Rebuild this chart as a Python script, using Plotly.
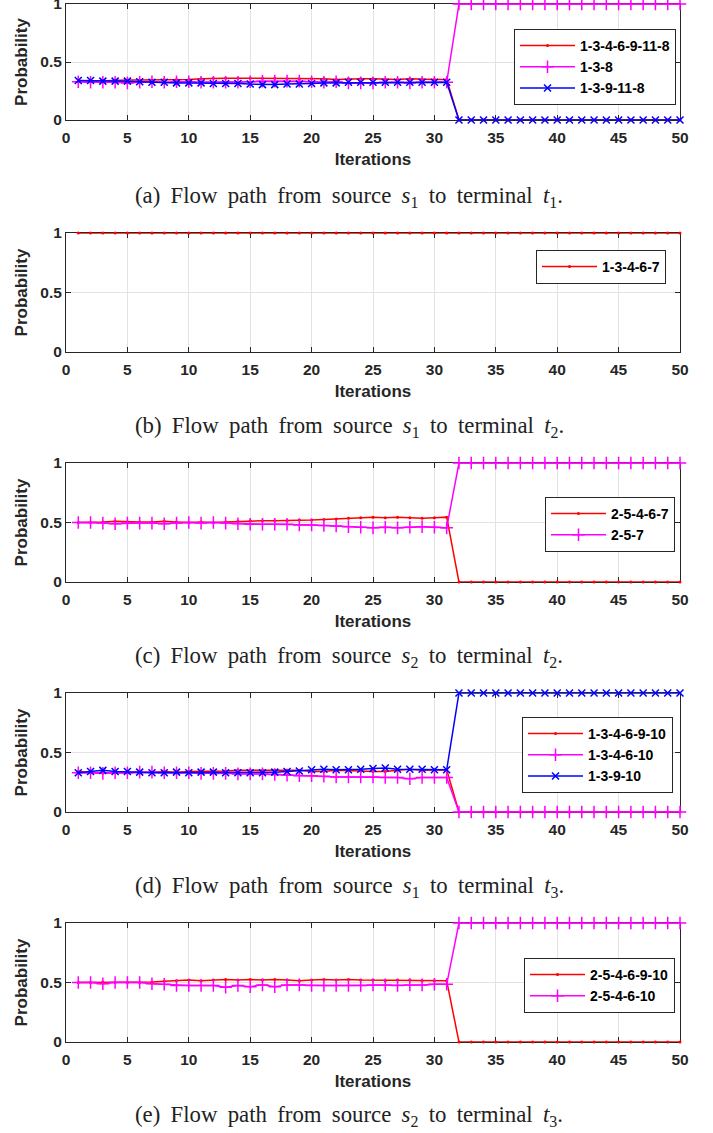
import plotly.graph_objects as go

iters = list(range(1, 51))

# (a) s1 -> t1
a_red = [0.33,0.335,0.34,0.34,0.345,0.345,0.345,0.35,0.35,0.35,0.355,0.36,0.36,0.36,0.36,0.36,0.36,0.355,0.355,0.355,0.355,0.35,0.355,0.355,0.355,0.35,0.35,0.355,0.35,0.35,0.35] + [0.0]*19
a_mag = [0.33,0.325,0.325,0.325,0.32,0.325,0.33,0.325,0.33,0.33,0.325,0.325,0.325,0.325,0.33,0.335,0.335,0.335,0.335,0.33,0.325,0.33,0.32,0.32,0.32,0.325,0.325,0.32,0.325,0.325,0.325] + [1.0]*19
a_blue = [0.34,0.34,0.335,0.335,0.335,0.33,0.325,0.325,0.32,0.32,0.32,0.315,0.315,0.315,0.31,0.305,0.305,0.31,0.31,0.315,0.32,0.32,0.325,0.325,0.325,0.325,0.325,0.325,0.325,0.325,0.325] + [0.0]*19

# (b) s1 -> t2
b_red = [1.0]*50

# (c) s2 -> t2
c_red = [0.50,0.50,0.505,0.51,0.505,0.505,0.505,0.51,0.505,0.50,0.505,0.50,0.505,0.51,0.515,0.515,0.515,0.515,0.52,0.52,0.525,0.53,0.535,0.54,0.545,0.54,0.545,0.54,0.535,0.54,0.545] + [0.0]*19
c_mag = [0.50,0.50,0.495,0.49,0.495,0.495,0.495,0.49,0.495,0.50,0.495,0.50,0.495,0.49,0.485,0.485,0.485,0.485,0.48,0.48,0.475,0.47,0.465,0.46,0.455,0.46,0.455,0.46,0.465,0.46,0.455] + [1.0]*19

# (d) s1 -> t3
d_red = [0.34,0.33,0.325,0.33,0.33,0.33,0.335,0.34,0.335,0.34,0.34,0.34,0.345,0.35,0.35,0.35,0.35,0.35,0.35,0.34,0.34,0.35,0.35,0.345,0.34,0.34,0.35,0.36,0.35,0.355,0.355] + [0.0]*19
d_mag = [0.33,0.33,0.325,0.33,0.33,0.335,0.335,0.33,0.33,0.33,0.325,0.325,0.325,0.32,0.32,0.32,0.315,0.31,0.305,0.305,0.3,0.295,0.295,0.295,0.295,0.29,0.29,0.28,0.29,0.29,0.29] + [0.0]*19
d_blue = [0.33,0.34,0.35,0.34,0.34,0.335,0.33,0.33,0.335,0.33,0.335,0.335,0.33,0.33,0.33,0.33,0.335,0.34,0.345,0.355,0.36,0.355,0.355,0.36,0.365,0.37,0.36,0.36,0.36,0.355,0.355] + [1.0]*19

# (e) s2 -> t3
e_red = [0.50,0.50,0.505,0.50,0.50,0.50,0.505,0.51,0.515,0.52,0.515,0.52,0.525,0.52,0.525,0.52,0.525,0.52,0.515,0.52,0.525,0.52,0.525,0.52,0.52,0.515,0.52,0.52,0.515,0.515,0.515] + [0.0]*19
e_mag = [0.50,0.50,0.49,0.50,0.50,0.50,0.49,0.485,0.475,0.475,0.475,0.475,0.46,0.475,0.465,0.48,0.465,0.48,0.48,0.475,0.475,0.475,0.475,0.475,0.48,0.48,0.475,0.48,0.48,0.485,0.485] + [1.0]*19

x_ticks = [0, 5, 10, 15, 20, 25, 30, 35, 40, 45, 50]
y_ticks = [0, 0.5, 1]
y_tick_text = ["0", "0.5", "1"]

SP = " \u2009"  # widened word space (LaTeX-like justification)
def cap(letter, s, t):
    words = [f"({letter})", "Flow", "path", "from", "source",
             f"<i>s</i><sub>{s}</sub>", "to", "terminal", f"<i>t</i><sub>{t}</sub>."]
    return SP.join(words)

captions = [cap("a", 1, 1), cap("b", 1, 2), cap("c", 2, 2), cap("d", 1, 3), cap("e", 2, 3)]

panels = [
    [("1-3-4-6-9-11-8", a_red, "red"), ("1-3-8", a_mag, "mag"), ("1-3-9-11-8", a_blue, "blue")],
    [("1-3-4-6-7", b_red, "red")],
    [("2-5-4-6-7", c_red, "red"), ("2-5-7", c_mag, "mag")],
    [("1-3-4-6-9-10", d_red, "red"), ("1-3-4-6-10", d_mag, "mag"), ("1-3-9-10", d_blue, "blue")],
    [("2-5-4-6-9-10", e_red, "red"), ("2-5-4-6-10", e_mag, "mag")],
]

W, H = 713, 1133
panel_px = [(4, 120), (233, 352), (463, 582), (693, 812), (923, 1042)]
caption_px = [197, 427, 657, 887, 1116]
legend_px = [(676, 29), (666, 250), (675, 497), (673, 717), (675, 958)]

styles = {
    "red": dict(color="#FF0000", marker=dict(symbol="circle", size=3, color="#FF0000")),
    "mag": dict(color="#FF00FF", marker=dict(symbol="cross-thin", size=9, color="#FF00FF",
                                            line=dict(color="#FF00FF", width=1.5))),
    "blue": dict(color="#0000FF", marker=dict(symbol="x-thin", size=7, color="#0000FF",
                                             line=dict(color="#0000FF", width=1.5))),
}

fig = go.Figure()
layout = {}
axcol = "#262626"
tick_font = dict(family="Liberation Sans, Arial", size=15.5, color=axcol, weight="bold")
title_font = dict(family="Liberation Sans, Arial", size=17, color=axcol, weight="bold")

for i, series in enumerate(panels):
    n = i + 1
    xa = "x" if n == 1 else f"x{n}"
    ya = "y" if n == 1 else f"y{n}"
    lg = "legend" if n == 1 else f"legend{n}"
    for name, vals, st in series:
        s = styles[st]
        fig.add_trace(go.Scatter(
            x=iters, y=vals, name=name, mode="lines+markers",
            line=dict(color=s["color"], width=1.5), marker=s["marker"],
            xaxis=xa, yaxis=ya, legend=lg, cliponaxis=False))
    top, bot = panel_px[i]
    xk = "xaxis" if n == 1 else f"xaxis{n}"
    yk = "yaxis" if n == 1 else f"yaxis{n}"
    layout[xk] = dict(
        domain=[66 / W, 680 / W], range=[0, 50], anchor=ya, automargin=False,
        tickvals=x_ticks, ticks="inside", ticklen=5, tickcolor=axcol,
        showline=True, linecolor=axcol, linewidth=1, mirror="ticks",
        showgrid=True, gridcolor="#e3e3e3", gridwidth=1, zeroline=False,
        tickfont=tick_font, ticklabelstandoff=3, layer="below traces",
        ticklabeloverflow="allow",
        title=dict(text="Iterations", font=title_font, standoff=8),
    )
    layout[yk] = dict(
        domain=[1 - bot / H, 1 - top / H], range=[0, 1], anchor=xa, automargin=False,
        tickvals=y_ticks, ticktext=y_tick_text, ticks="inside", ticklen=5, tickcolor=axcol,
        showline=True, linecolor=axcol, linewidth=1, mirror="ticks",
        showgrid=True, gridcolor="#e3e3e3", gridwidth=1, zeroline=False,
        tickfont=tick_font, layer="below traces", ticklabeloverflow="allow",
        title=dict(text="Probability", font=title_font, standoff=8),
    )
    lx, ly = legend_px[i]
    layout[lg] = dict(
        x=lx / W, y=1 - ly / H, xanchor="right", yanchor="top",
        bgcolor="white", bordercolor=axcol, borderwidth=1,
        font=dict(family="Liberation Sans, Arial", size=14, color="black", weight="bold"),
        itemwidth=55, tracegroupgap=0,
    )

annotations = []
for i, c in enumerate(captions):
    annotations.append(dict(
        text=c, x=349 / W, y=1 - caption_px[i] / H, xref="paper", yref="paper",
        xanchor="center", yanchor="middle", showarrow=False,
        font=dict(family="Liberation Serif, Times New Roman", size=22.8, color="#222222")))

fig.update_layout(
    width=W, height=H, margin=dict(l=0, r=0, t=0, b=0),
    paper_bgcolor="white", plot_bgcolor="white",
    annotations=annotations, showlegend=True, **layout)

fig.write_html(
    "out.html",
    config={"displayModeBar": False},
    post_script="document.body.style.margin='0';document.body.style.padding='0';"
                "document.documentElement.style.overflow='hidden';",
)
